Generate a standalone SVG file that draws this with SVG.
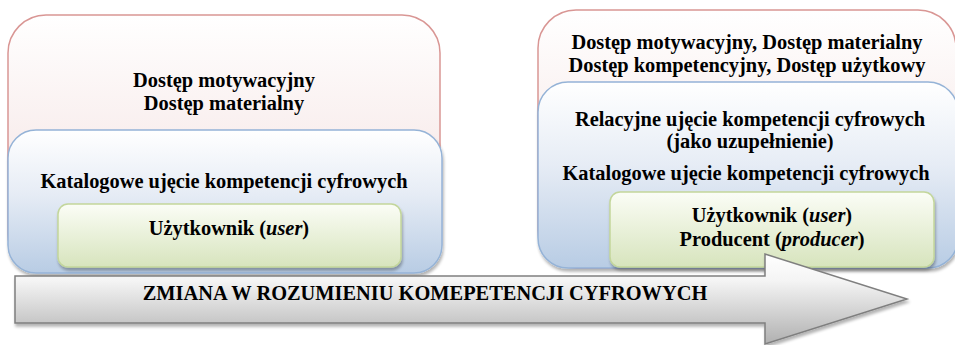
<svg xmlns="http://www.w3.org/2000/svg" width="955" height="345" viewBox="0 0 955 345">
<defs>
<linearGradient id="gRed" x1="0" y1="0" x2="0" y2="1">
<stop offset="0" stop-color="#ffffff"/>
<stop offset="1" stop-color="#f2dcdb"/>
</linearGradient>
<linearGradient id="gBlue" x1="0" y1="0" x2="0" y2="1">
<stop offset="0" stop-color="#ffffff"/>
<stop offset="0.45" stop-color="#e6ecf5"/>
<stop offset="1" stop-color="#b8cce4"/>
</linearGradient>
<linearGradient id="gGreen" x1="0" y1="0" x2="0" y2="1">
<stop offset="0" stop-color="#fbfdf6"/>
<stop offset="1" stop-color="#d7e4bd"/>
</linearGradient>
<linearGradient id="gArrow" x1="0" y1="0" x2="0" y2="1">
<stop offset="0" stop-color="#ffffff"/>
<stop offset="0.3" stop-color="#f4f4f4"/>
<stop offset="1" stop-color="#b0b0b0"/>
</linearGradient>
<filter id="shadow" x="-5%" y="-5%" width="115%" height="125%">
<feGaussianBlur in="SourceAlpha" stdDeviation="1.5"/>
<feOffset dx="1" dy="3" result="b"/>
<feComponentTransfer><feFuncA type="linear" slope="0.3"/></feComponentTransfer>
<feMerge><feMergeNode/><feMergeNode in="SourceGraphic"/></feMerge>
</filter>
</defs>
<style>
.red{fill:url(#gRed);stroke:#d99694;stroke-width:1.5}
.blue{fill:url(#gBlue);stroke:#95b3d7;stroke-width:1.5}
.green{fill:url(#gGreen);stroke:#c3d69b;stroke-width:1.5}
.arrow{fill:url(#gArrow);stroke:#7f7f7f;stroke-width:1.5}
text{font-family:"Liberation Serif","DejaVu Serif",serif;font-weight:bold;font-size:20.4px;fill:#000;text-anchor:middle}
.i{font-style:italic}
</style>

<g id="left-access">
<rect class="red" x="8" y="15" width="432" height="257" rx="38" ry="38"/>
<text x="224" y="87">Dostęp motywacyjny</text>
<text x="224" y="110">Dostęp materialny</text>
</g>
<g id="left-catalog">
<rect class="blue" x="8" y="130" width="434" height="143" rx="28" ry="28" filter="url(#shadow)"/>
<text x="224" y="188">Katalogowe ujęcie kompetencji cyfrowych</text>
</g>
<g id="left-user">
<rect class="green" x="58" y="204" width="343" height="63" rx="10" ry="10" filter="url(#shadow)"/>
<text x="229" y="235">Użytkownik (<tspan class="i">user</tspan>)</text>
</g>

<g id="right-access">
<rect class="red" x="538" y="10" width="418" height="258" rx="38" ry="38"/>
<text x="747" y="49">Dostęp motywacyjny, Dostęp materialny</text>
<text x="747" y="72">Dostęp kompetencyjny, Dostęp użytkowy</text>
</g>
<g id="right-relational">
<rect class="blue" x="538" y="82" width="420" height="186" rx="30" ry="30" filter="url(#shadow)"/>
<text x="750" y="126">Relacyjne ujęcie kompetencji cyfrowych</text>
<text x="750" y="148">(jako uzupełnienie)</text>
<text x="746" y="180">Katalogowe ujęcie kompetencji cyfrowych</text>
</g>
<g id="right-user">
<rect class="green" x="610" y="192" width="324" height="75" rx="10" ry="10" filter="url(#shadow)"/>
<text x="772" y="222">Użytkownik (<tspan class="i">user</tspan>)</text>
<text x="772" y="246">Producent (<tspan class="i">producer</tspan>)</text>
</g>

<g id="connectors">
<g id="change-arrow">
<path class="arrow" d="M15,276 L765,276 L765,254 L907,299 L765,344 L765,323 L15,323 Z" filter="url(#shadow)"/>
<text x="425" y="300">ZMIANA W ROZUMIENIU KOMEPETENCJI CYFROWYCH</text>
</g>
</g>
</svg>
